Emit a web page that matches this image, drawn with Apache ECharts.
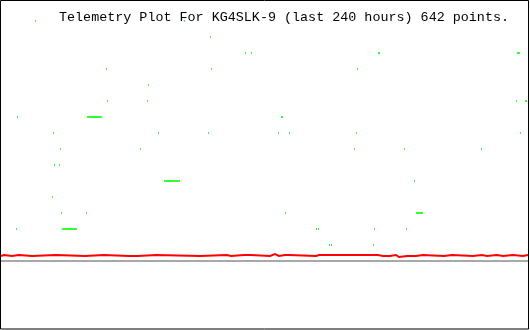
<!DOCTYPE html>
<html><head><meta charset="utf-8">
<script src="https://cdn.jsdelivr.net/npm/echarts@6/dist/echarts.min.js"></script>
<style>html,body{margin:0;padding:0;background:#fff}#c{width:530px;height:330px}</style>
</head><body><div id="c"></div>
<script>
const titleText = "Telemetry Plot For KG4SLK-9 (last 240 hours) 642 points.";

// green channel: quantised levels and the time columns where each level was recorded
const greenLevels = [15, 14, 13, 12, 11, 10, 9, 8, 7, 6, 5, 4, 3, 2, 1];
const greenCols = [
  [35, 184],
  [210],
  [245, 251, 378, 379, 517, 518, 519],
  [106, 211, 357],
  [148],
  [107, 147, 516, 525, 526],
  [17, 87, 88, 89, 90, 91, 92, 93, 94, 95, 96, 97, 98, 99, 100, 101, 281, 282],
  [53, 158, 208, 278, 289, 356, 520],
  [60, 140, 354, 404, 481],
  [54, 59],
  [164, 165, 166, 167, 168, 169, 170, 171, 172, 173, 174, 175, 176, 177, 178, 179, 414],
  [52],
  [61, 86, 285, 416, 417, 418, 419, 420, 421, 422],
  [16, 62, 63, 64, 65, 66, 67, 68, 69, 70, 71, 72, 73, 74, 75, 76, 316, 318, 374, 406],
  [329, 331, 373]
];

// red channel: time where value changes, and the value held from there
const redX = [1, 2, 4, 12, 19, 32, 56, 85, 104, 129, 131, 138, 156, 200, 227, 231, 244, 246, 248, 249, 251,
  270, 272, 275, 279, 285, 287, 289, 316, 317, 318, 319, 321, 351, 353, 360, 362, 378, 383, 385, 390,
  396, 399, 407, 409, 416, 423, 444, 452, 473, 482, 487, 497, 503, 513, 523, 528];
const redY = [0.3125, 0.375, 0.3125, 0.375, 0.3125, 0.375, 0.3125, 0.375, 0.3125, 0.375, 0.3125, 0.375, 0.3125,
  0.375, 0.3125, 0.375, 0.3125, 0.375, 0.3125, 0.375, 0.3125,
  0.375, 0.4375, 0.3125, 0.375, 0.3125, 0.375, 0.3125, 0.375, 0.3125, 0.375, 0.3125, 0.375, 0.3125, 0.375,
  0.3125, 0.375, 0.3125, 0.4375, 0.3125, 0.375,
  0.25, 0.3125, 0.375, 0.3125, 0.375, 0.3125, 0.375, 0.3125, 0.375, 0.3125, 0.375, 0.3125, 0.375, 0.3125,
  0.375, 0.375];

// zero reference line
const baseX = [1, 528];
const baseY = [0, 0];

const greenData = [];
greenLevels.forEach((lv, i) => greenCols[i].forEach(x => greenData.push([x, lv])));
const redData = redX.map((x, i) => [x, redY[i]]);
const baseData = baseX.map((x, i) => [x, baseY[i]]);

const chart = echarts.init(document.getElementById('c'), null, {renderer: 'canvas'});
chart.setOption({
  animation: false,
  backgroundColor: '#ffffff',
  title: {
    text: titleText, left: 59, top: 11, padding: 0,
    textStyle: {fontFamily: 'Liberation Mono', fontSize: 13.4, fontWeight: 'normal', color: '#000000'}
  },
  grid: {left: 0, right: 0, top: 0, bottom: 0},
  xAxis: [
    // column-centred axis for the point marks
    {type: 'value', min: -0.5, max: 529.5, show: false},
    // column-edge axis for the lines
    {type: 'value', min: 0, max: 530, show: false}
  ],
  yAxis: {type: 'value', min: -4.3125, max: 16.3125, show: false},
  series: [
    {type: 'line', xAxisIndex: 1, data: baseData, symbol: 'none', lineStyle: {color: '#a8a8a8', width: 2}, z: 1},
    {type: 'scatter', xAxisIndex: 0, data: greenData, symbol: 'rect', symbolSize: [1, 2],
      itemStyle: {color: '#00ff00'}, z: 2},
    {type: 'line', xAxisIndex: 1, data: redData, step: 'end', symbol: 'none',
      lineStyle: {color: '#ff0000', width: 2, cap: 'butt', join: 'miter'}, z: 3}
  ],
  graphic: [{
    type: 'rect', z: 100, silent: true,
    shape: {x: 0.5, y: 0.5, width: 528, height: 328.5},
    style: {fill: null, stroke: '#000000', lineWidth: 1}
  }]
});
</script></body></html>
